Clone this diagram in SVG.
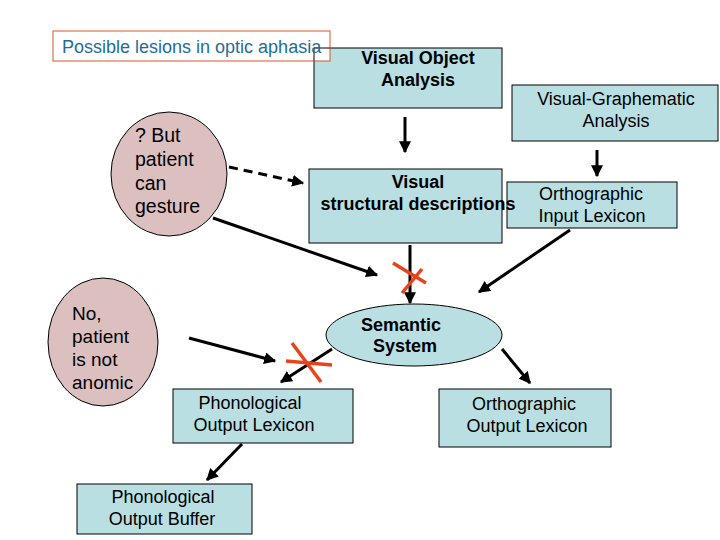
<svg xmlns="http://www.w3.org/2000/svg" width="720" height="540" viewBox="0 0 720 540">
<style>
.box{fill:#b9dfe3;stroke:#000;stroke-width:1}
.oval{fill:#dcc0c0;stroke:#000;stroke-width:1}
.t{font-family:"Liberation Sans",Arial,sans-serif;font-size:18px;fill:#000}
.b{font-weight:bold}
.big{font-size:19.5px}
.c{text-anchor:middle}
.ln{stroke:#000;stroke-width:3;fill:none}
.x{stroke:#e8441c;stroke-width:3.5;fill:none}
</style>
<defs>
<marker id="ah" viewBox="0 0 10 10" refX="9" refY="5" markerWidth="4" markerHeight="4" orient="auto" markerUnits="strokeWidth">
<path d="M0,0 L10,5 L0,10 Z" fill="#000"/>
</marker>
</defs>
<rect width="720" height="540" fill="#fff"/>
<g id="voa">
<rect class="box" x="314" y="48" width="188" height="60"/>
<text class="t b c" x="418" y="64">Visual Object</text>
<text class="t b c" x="418" y="86">Analysis</text>
</g>
<g id="title">
<rect x="53" y="31" width="277" height="30" fill="#fff" stroke="#d9542a" stroke-width="1"/>
<path d="M314,61 V48 H330" fill="none" stroke="#000" stroke-width="1"/>
<text x="62" y="53" class="t" style="fill:#1f6c9a">Possible lesions in optic aphasia</text>
</g>
<g id="vga">
<rect class="box" x="512" y="85" width="206" height="56"/>
<text class="t c" x="616" y="105">Visual-Graphematic</text>
<text class="t c" x="616" y="127">Analysis</text>
</g>
<g id="oval1">
<ellipse class="oval" cx="169" cy="174" rx="58" ry="62"/>
<text class="t big" x="135" y="142">? But</text>
<text class="t big" x="135" y="166">patient</text>
<text class="t big" x="135" y="190">can</text>
<text class="t big" x="135" y="213">gesture</text>
</g>
<g id="oil">
<rect class="box" x="507" y="182" width="170" height="46"/>
<text class="t c" x="591" y="200">Orthographic</text>
<text class="t c" x="592" y="222">Input Lexicon</text>
</g>
<g id="vsd">
<rect class="box" x="309" y="169" width="193" height="74"/>
<text class="t b c" x="418" y="188">Visual</text>
<text class="t b c" x="418" y="210">structural descriptions</text>
</g>
<g id="oval2">
<ellipse class="oval" cx="103" cy="342" rx="55" ry="64"/>
<text class="t" style="font-size:19px" x="72" y="320">No,</text>
<text class="t" style="font-size:19px" x="72" y="343">patient</text>
<text class="t" style="font-size:19px" x="72" y="366">is not</text>
<text class="t" style="font-size:19px" x="72" y="389">anomic</text>
</g>
<g id="sem">
<ellipse class="box" cx="414" cy="335" rx="88" ry="31"/>
<text class="t b c" x="401" y="331">Semantic</text>
<text class="t b c" x="405" y="352">System</text>
</g>
<g id="pol">
<rect class="box" x="173" y="389" width="180" height="54"/>
<text class="t c" x="250" y="409">Phonological</text>
<text class="t c" x="254" y="431">Output Lexicon</text>
</g>
<g id="ool">
<rect class="box" x="439" y="389" width="172" height="58"/>
<text class="t c" x="524" y="410">Orthographic</text>
<text class="t c" x="527" y="432">Output Lexicon</text>
</g>
<g id="pob">
<rect class="box" x="77" y="484" width="175" height="50"/>
<text class="t c" x="163" y="503">Phonological</text>
<text class="t c" x="162" y="525">Output Buffer</text>
</g>
<g id="connectors">
<line class="ln" x1="405" y1="117" x2="405" y2="152" marker-end="url(#ah)"/>
<line class="ln" x1="597" y1="150" x2="597" y2="176" marker-end="url(#ah)"/>
<line class="ln" x1="229" y1="167" x2="303" y2="183" stroke-dasharray="9,6" marker-end="url(#ah)"/>
<line class="ln" x1="213" y1="218" x2="377" y2="275" marker-end="url(#ah)"/>
<line class="ln" x1="410" y1="245" x2="410" y2="303" marker-end="url(#ah)"/>
<line class="ln" x1="570" y1="230" x2="479" y2="292" marker-end="url(#ah)"/>
<line class="ln" x1="189" y1="338" x2="275" y2="361" marker-end="url(#ah)"/>
<line class="ln" x1="332" y1="349" x2="281" y2="382" marker-end="url(#ah)"/>
<line class="ln" x1="502" y1="349" x2="530" y2="383" marker-end="url(#ah)"/>
<line class="ln" x1="242" y1="444" x2="207" y2="480" marker-end="url(#ah)"/>
<line class="x" x1="393" y1="263" x2="426" y2="283"/>
<line class="x" x1="422" y1="269" x2="402" y2="293"/>
<line class="x" x1="286" y1="361" x2="332" y2="365"/>
<line class="x" x1="292" y1="343" x2="321" y2="382"/>
</g>
</svg>
